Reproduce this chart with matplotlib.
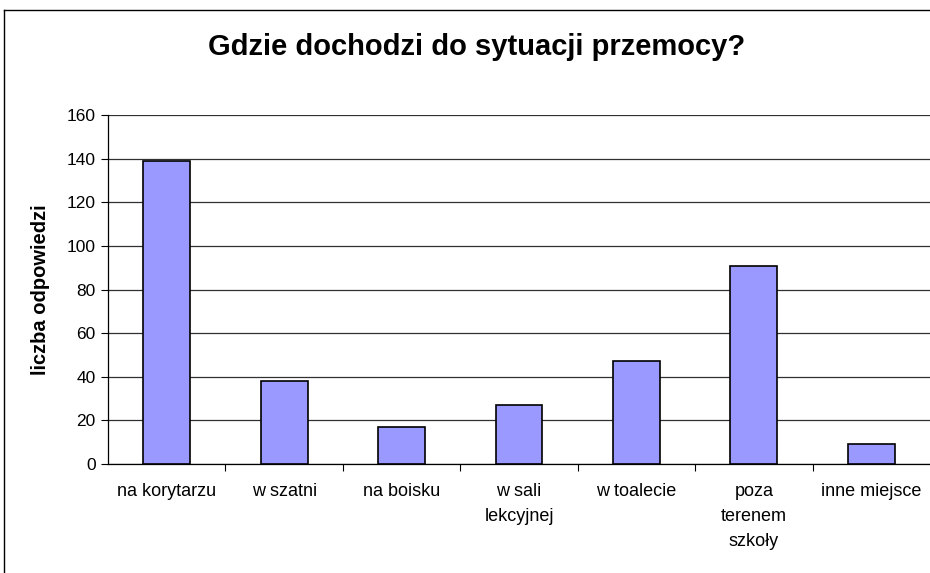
import matplotlib.pyplot as plt
from matplotlib.lines import Line2D

plt.rcParams['font.family'] = ['Liberation Sans', 'DejaVu Sans']

# Data
categories = ['na korytarzu', 'w szatni', 'na boisku', 'w sali\nlekcyjnej',
              'w toalecie', 'poza\nterenem\nszkoły', 'inne miejsce']
values = [139, 38, 17, 27, 47, 91, 9]
y_ticks = [0, 20, 40, 60, 80, 100, 120, 140, 160]

fig = plt.figure(figsize=(9.3, 5.73), dpi=100)
ax = fig.add_axes([108 / 930, 109 / 573, 822 / 930, 349 / 573])

x = range(len(categories))
ax.bar(x, values, width=0.4, color='#9999ff', edgecolor='black', linewidth=1.2, zorder=3)

ax.set_xlim(-0.5, len(categories) - 0.5)
ax.set_ylim(0, 160)
ax.set_yticks(y_ticks)
ax.tick_params(axis='y', labelsize=12.5, length=5, width=0.8, direction='out', pad=4)

# category labels centred, ticks between categories
ax.set_xticks([i + 0.5 for i in range(len(categories) - 1)])
ax.set_xticklabels([])
ax.set_xticks(list(x), minor=True)
ax.set_xticklabels(categories, minor=True, fontsize=13, linespacing=1.6)
ax.tick_params(axis='x', which='major', length=5, width=0.8, direction='out')
ax.tick_params(axis='x', which='minor', length=0, pad=14)

ax.grid(axis='y', color='#303030', linewidth=0.9, zorder=0)
for s in ['top', 'right']:
    ax.spines[s].set_visible(False)
ax.spines['left'].set_linewidth(0.9)
ax.spines['bottom'].set_linewidth(0.9)

ax.set_ylabel('liczba odpowiedzi', fontsize=14.5, fontweight='bold', labelpad=12)
fig.text(477 / 930, 1 - 47 / 573, 'Gdzie dochodzi do sytuacji przemocy?',
         fontsize=21, fontweight='bold', ha='center', va='center')

# chart area border (cropped at right/bottom)
fig.add_artist(Line2D([4 / 930, 4 / 930], [0, 1 - 10 / 573], color='black', linewidth=1))
fig.add_artist(Line2D([4 / 930, 1], [1 - 10 / 573, 1 - 10 / 573], color='black', linewidth=1))

fig.savefig('out.png', dpi=100)
